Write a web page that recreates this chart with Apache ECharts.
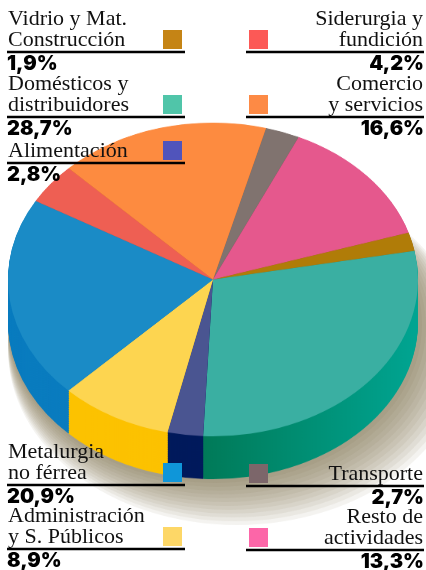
<!DOCTYPE html>
<html>
<head>
    <meta charset="utf-8">
    <title>Consumo por sectores</title>
    <style>
        body { margin: 0; background: #fff; }
        #wrap { position: relative; width: 426px; height: 570px; overflow: hidden; }
        #pie { position: absolute; left: 0; top: 115px; width: 426px; height: 580px;
               transform: scaleY(0.765); transform-origin: 0 0; }
        #labels { position: absolute; left: 0; top: 0; width: 426px; height: 570px; }
    </style>
</head>
<body>
<div id="wrap">
    <div id="pie"></div>
    <div id="labels"></div>
</div>
<script src="https://cdn.jsdelivr.net/npm/echarts@6/dist/echarts.min.js"></script>
<script type="text/javascript">
    // sectores en el orden de la tarta (sentido horario desde arriba)
    var categories = ['Transporte', 'Resto de\nactividades', 'Vidrio y Mat.\nConstrucción',
        'Domésticos y\ndistribuidores', 'Alimentación', 'Administración\ny S. Públicos',
        'Metalurgia\nno férrea', 'Siderurgia y\nfundición', 'Comercio\ny servicios'];
    var values = [2.7, 13.3, 1.9, 28.7, 2.8, 8.9, 20.9, 4.2, 16.6];

    var topColors = ['#80736f', '#e5588d', '#b07c08', '#3aafa2', '#4a5591', '#fdd550', '#1a8bc6', '#ee5f53', '#fd8b40'];
    var sideColors = ['#5f5350', '#b8406c', '#8a6008',
        { type: 'linear', x: 0, y: 0, x2: 1, y2: 0, colorStops: [{ offset: 0, color: '#007a58' }, { offset: 1, color: '#00a592' }] },
        '#001a5c', '#fcc200', '#0a7cbf', '#c04a40', '#d06a2a'];
    var keyColors = ['#7c666a', '#fc66a8', '#c58415', '#50c5a9', '#5054bb', '#fdd767', '#0f96d9', '#fc5956', '#fd8a45'];

    // posicion de cada rotulo: columna y altura de la raya
    var slots = [['r', 486], ['r', 550], ['l', 52], ['l', 117], ['l', 163], ['l', 549], ['l', 485], ['r', 52], ['r', 117]];

    // ---- tarta en perspectiva ----
    var pieChart = echarts.init(document.getElementById('pie'));
    var cy = 215, depth = 56, R = 205;

    function layer(off, colors) {
        return {
            type: 'pie',
            silent: true,
            animation: false,
            center: [213, cy + off],
            radius: R,
            startAngle: 75,
            clockwise: true,
            label: { show: false },
            labelLine: { show: false },
            emphasis: { disabled: true },
            data: values.map(function (v, i) {
                return { value: v, name: categories[i].replace('\n', ' '), itemStyle: { color: colors[i] } };
            })
        };
    }

    // sombra difusa: discos translucidos desplazados hacia abajo a la derecha
    var series = [];
    for (var j = 12; j >= 1; j--) {
        series.push({
            type: 'pie',
            silent: true,
            animation: false,
            center: [213 + 2 * j, cy + depth + 3 * j],
            radius: R + 2 * j,
            label: { show: false },
            labelLine: { show: false },
            itemStyle: { color: 'rgba(110,100,70,0.08)' },
            data: [{ value: 1, name: 'sombra' }]
        });
    }
    for (var d = depth; d > 0; d -= 1.5) {
        series.push(layer(d, sideColors));
    }
    series.push(layer(0, topColors));
    pieChart.setOption({ animation: false, series: series });

    // ---- rotulos ----
    var labelChart = echarts.init(document.getElementById('labels'));
    var graphics = [];
    categories.forEach(function (name, i) {
        var side = slots[i][0], L = slots[i][1];
        var lines = name.split('\n').length;
        var left = side === 'l';
        graphics.push({
            type: 'text',
            style: {
                text: name, x: left ? 8 : 423, y: L - (lines === 2 ? 43 : 22),
                fontFamily: 'Liberation Serif', fontSize: 22, lineHeight: 21,
                fill: '#111', align: left ? 'left' : 'right', verticalAlign: 'top'
            }
        });
        graphics.push({
            type: 'rect',
            shape: { x: left ? 163 : 249, y: L - 22, width: 19, height: 19 },
            style: { fill: keyColors[i] }
        });
        graphics.push({
            type: 'line',
            shape: { x1: left ? 7 : 246, y1: L, x2: left ? 185 : 424, y2: L },
            style: { stroke: '#000', lineWidth: 2.5 }
        });
        graphics.push({
            type: 'text',
            style: {
                text: values[i].toFixed(1).replace('.', ',') + '%',
                x: left ? 7 : 424, y: L + 12,
                fontFamily: 'Inter', fontWeight: 900, fontSize: 20, fill: '#000',
                align: left ? 'left' : 'right', verticalAlign: 'middle'
            }
        });
    });
    labelChart.setOption({ graphic: graphics });
</script>
</body>
</html>
